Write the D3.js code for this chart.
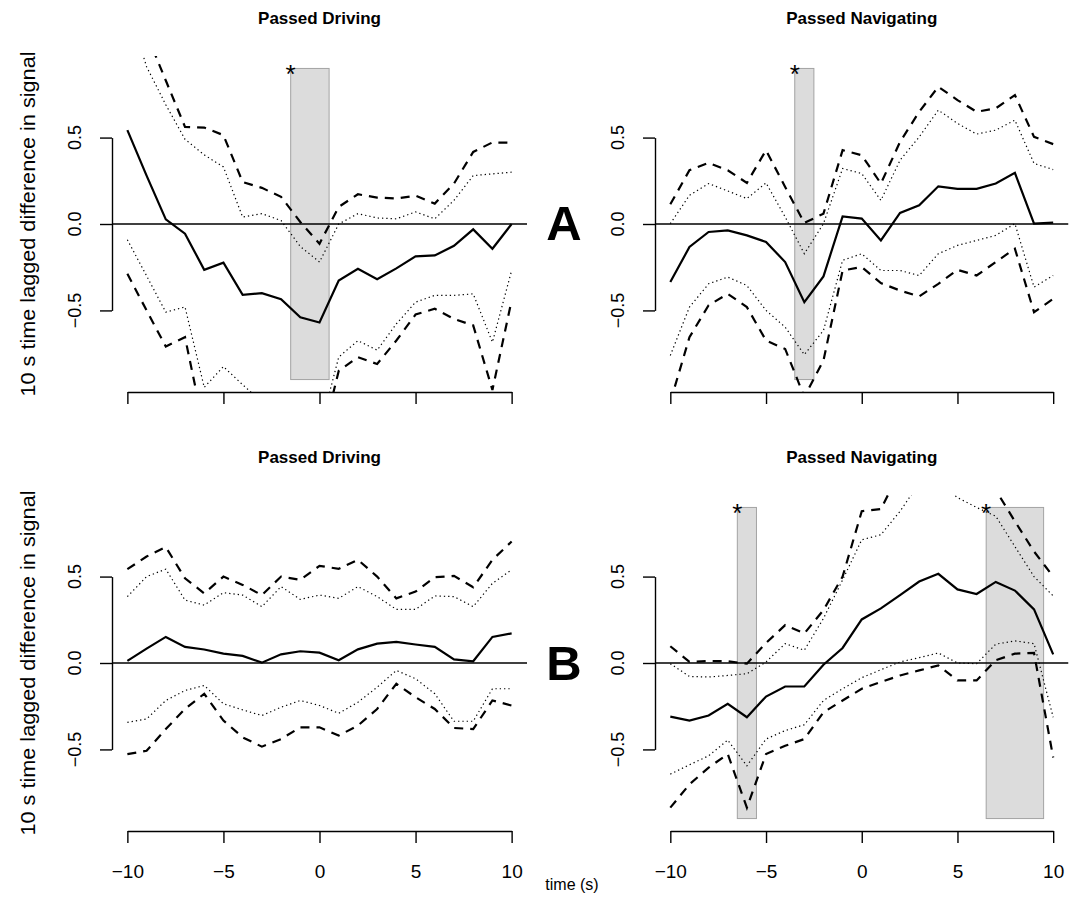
<!DOCTYPE html>
<html>
<head>
<meta charset="utf-8">
<script src="https://cdn.jsdelivr.net/npm/d3@7"></script>
<style>
  body { margin: 0; background: #fff; }
  svg { font-family: "Liberation Sans", Arimo, Helvetica, Arial, sans-serif; }
</style>
</head>
<body>
<svg id="chart" width="1078" height="906"></svg>
<script>
// time lag in seconds
const timeLags = [-10, -9, -8, -7, -6, -5, -4, -3, -2, -1, 0, 1, 2, 3, 4, 5, 6, 7, 8, 9, 10];
const xTicks = [-10, -5, 0, 5, 10];
const yTicks = [-0.5, 0, 0.5];

// A - Passed Driving
const aDrivMean = [0.543, 0.28, 0.027, -0.056, -0.265, -0.224, -0.41, -0.40, -0.435, -0.54, -0.57, -0.327, -0.259, -0.319, -0.257, -0.187, -0.182, -0.126, -0.031, -0.143, 0.0];
const aDrivOuterHi = [1.35, 1.1, 0.83, 0.562, 0.558, 0.514, 0.243, 0.209, 0.157, 0.012, -0.114, 0.099, 0.172, 0.153, 0.147, 0.164, 0.118, 0.234, 0.417, 0.472, 0.47];
const aDrivInnerHi = [1.27, 0.91, 0.69, 0.49, 0.40, 0.33, 0.04, 0.06, 0.02, -0.13, -0.22, 0.0, 0.06, 0.035, 0.03, 0.07, 0.03, 0.137, 0.28, 0.29, 0.30];
const aDrivInnerLo = [-0.091, -0.30, -0.51, -0.48, -0.945, -0.825, -0.93, -1.03, -1.2, -1.2, -1.2, -0.77, -0.675, -0.73, -0.578, -0.452, -0.413, -0.413, -0.404, -0.684, -0.269];
const aDrivOuterLo = [-0.288, -0.50, -0.709, -0.655, -1.19, -1.1, -1.25, -1.35, -1.4, -1.35, -1.3, -0.85, -0.771, -0.81, -0.674, -0.524, -0.49, -0.549, -0.587, -0.96, -0.442];

// A - Passed Navigating
const aNavMean = [-0.336, -0.133, -0.046, -0.037, -0.066, -0.104, -0.22, -0.452, -0.303, 0.044, 0.031, -0.095, 0.064, 0.108, 0.218, 0.203, 0.203, 0.234, 0.296, 0.002, 0.008];
const aNavOuterHi = [0.114, 0.311, 0.354, 0.311, 0.238, 0.427, 0.214, 0.006, 0.06, 0.427, 0.398, 0.234, 0.475, 0.649, 0.794, 0.717, 0.649, 0.669, 0.746, 0.504, 0.462];
const aNavInnerHi = [0.002, 0.166, 0.234, 0.191, 0.147, 0.238, 0.041, -0.172, 0.002, 0.321, 0.292, 0.137, 0.369, 0.504, 0.659, 0.582, 0.52, 0.543, 0.601, 0.35, 0.315];
const aNavInnerLo = [-0.761, -0.481, -0.346, -0.307, -0.356, -0.50, -0.597, -0.756, -0.616, -0.21, -0.172, -0.269, -0.269, -0.298, -0.172, -0.124, -0.095, -0.066, 0.002, -0.365, -0.298];
const aNavOuterLo = [-1.03, -0.655, -0.47, -0.404, -0.481, -0.674, -0.723, -1.0, -0.79, -0.269, -0.249, -0.342, -0.385, -0.419, -0.346, -0.265, -0.298, -0.22, -0.143, -0.51, -0.433];

// B - Passed Driving
const bDrivMean = [0.012, 0.083, 0.151, 0.093, 0.078, 0.054, 0.041, 0.002, 0.05, 0.068, 0.06, 0.016, 0.079, 0.112, 0.122, 0.107, 0.093, 0.021, 0.01, 0.151, 0.171];
const bDrivOuterHi = [0.543, 0.616, 0.671, 0.49, 0.403, 0.50, 0.452, 0.393, 0.50, 0.481, 0.562, 0.545, 0.597, 0.50, 0.374, 0.413, 0.496, 0.504, 0.438, 0.597, 0.703];
const bDrivInnerHi = [0.384, 0.50, 0.543, 0.364, 0.335, 0.407, 0.393, 0.326, 0.442, 0.368, 0.393, 0.374, 0.442, 0.384, 0.31, 0.31, 0.388, 0.384, 0.326, 0.461, 0.539];
const bDrivInnerLo = [-0.343, -0.324, -0.217, -0.159, -0.13, -0.236, -0.271, -0.304, -0.256, -0.217, -0.246, -0.291, -0.227, -0.14, -0.043, -0.091, -0.178, -0.337, -0.337, -0.149, -0.149];
const bDrivOuterLo = [-0.527, -0.508, -0.382, -0.266, -0.178, -0.333, -0.43, -0.484, -0.44, -0.372, -0.372, -0.42, -0.362, -0.266, -0.12, -0.198, -0.266, -0.376, -0.382, -0.217, -0.246];

// B - Passed Navigating
const bNavMean = [-0.31, -0.333, -0.304, -0.236, -0.314, -0.194, -0.136, -0.136, -0.01, 0.087, 0.252, 0.316, 0.393, 0.471, 0.516, 0.426, 0.399, 0.469, 0.419, 0.31, 0.05];
const bNavOuterHi = [0.097, 0.006, 0.012, 0.01, -0.004, 0.116, 0.219, 0.171, 0.306, 0.50, 0.878, 0.891, 1.11, 1.25, 1.3, 1.25, 1.15, 1.0, 0.82, 0.645, 0.50];
const bNavInnerHi = [-0.004, -0.078, -0.081, -0.072, -0.062, 0.006, 0.112, 0.074, 0.258, 0.481, 0.713, 0.742, 0.878, 1.04, 1.05, 0.957, 0.90, 0.849, 0.674, 0.50, 0.388];
const bNavInnerLo = [-0.643, -0.589, -0.537, -0.446, -0.595, -0.44, -0.391, -0.357, -0.217, -0.149, -0.085, -0.039, 0.006, 0.031, 0.058, 0.0, -0.004, 0.109, 0.128, 0.112, -0.314];
const bNavOuterLo = [-0.837, -0.702, -0.605, -0.527, -0.837, -0.527, -0.479, -0.44, -0.285, -0.217, -0.149, -0.11, -0.072, -0.043, -0.014, -0.101, -0.101, 0.016, 0.054, 0.058, -0.547];

// significant windows [start, end] in seconds
const aDrivWindows = [[-1.5, 0.5]];
const aNavWindows = [[-3.5, -2.5]];
const bDrivWindows = [];
const bNavWindows = [[-6.5, -5.5], [6.5, 9.5]];

const windowHeight = 0.9;
const yLabel = "10 s time lagged difference in signal";

const panels = [
  { title: "Passed Driving", left: 112, right: 527, top: 56, bottom: 392, tickLabels: false,
    series: [aDrivMean, aDrivOuterHi, aDrivInnerHi, aDrivInnerLo, aDrivOuterLo], windows: aDrivWindows },
  { title: "Passed Navigating", left: 655, right: 1068.5, top: 56, bottom: 392, tickLabels: false,
    series: [aNavMean, aNavOuterHi, aNavInnerHi, aNavInnerLo, aNavOuterLo], windows: aNavWindows },
  { title: "Passed Driving", left: 112, right: 527, top: 495, bottom: 831, tickLabels: true,
    series: [bDrivMean, bDrivOuterHi, bDrivInnerHi, bDrivInnerLo, bDrivOuterLo], windows: bDrivWindows },
  { title: "Passed Navigating", left: 655, right: 1068.5, top: 495, bottom: 831, tickLabels: true,
    series: [bNavMean, bNavOuterHi, bNavInnerHi, bNavInnerLo, bNavOuterLo], windows: bNavWindows }
];

// solid mean, dashed outer band, dotted inner band
const styles = [
  { width: 2.2, dash: null },
  { width: 2.2, dash: "9,7" },
  { width: 1.2, dash: "1.3,3" },
  { width: 1.2, dash: "1.3,3" },
  { width: 2.2, dash: "9,7" }
];

const svg = d3.select("#chart");
svg.append("rect").attr("width", 1078).attr("height", 906).attr("fill", "#fff");

panels.forEach((p, i) => {
  const x = d3.scaleLinear().domain([-10.8, 10.8]).range([p.left, p.right]);
  const y = d3.scaleLinear().domain([-0.972, 0.972]).range([p.bottom, p.top]);
  const g = svg.append("g");

  const clipId = "clip" + i;
  g.append("clipPath").attr("id", clipId)
    .append("rect")
    .attr("x", p.left).attr("y", p.top)
    .attr("width", p.right - p.left).attr("height", p.bottom - p.top);

  const plot = g.append("g").attr("clip-path", `url(#${clipId})`);

  plot.selectAll("rect.win")
    .data(p.windows)
    .join("rect")
    .attr("class", "win")
    .attr("x", d => x(d[0]))
    .attr("y", y(windowHeight))
    .attr("width", d => x(d[1]) - x(d[0]))
    .attr("height", y(-windowHeight) - y(windowHeight))
    .attr("fill", "#dcdcdc")
    .attr("stroke", "#a3a3a3")
    .attr("stroke-width", 1);

  plot.append("line")
    .attr("x1", p.left).attr("x2", p.right)
    .attr("y1", y(0)).attr("y2", y(0))
    .attr("stroke", "#000").attr("stroke-width", 1.4);

  const line = d3.line()
    .x((d, j) => x(timeLags[j]))
    .y(d => y(d));

  p.series.forEach((s, k) => {
    plot.append("path")
      .datum(s)
      .attr("fill", "none")
      .attr("stroke", "#000")
      .attr("stroke-width", styles[k].width)
      .attr("stroke-dasharray", styles[k].dash)
      .attr("d", line);
  });

  // stars on the significant windows
  g.selectAll("text.star")
    .data(p.windows)
    .join("text")
    .attr("class", "star")
    .attr("x", d => x(d[0]))
    .attr("y", y(windowHeight) + 15)
    .attr("text-anchor", "middle")
    .attr("font-size", 26)
    .text("*");

  // x axis (R style, spans first to last tick)
  const xAxisScale = x.copy().domain([-10, 10]).range([x(-10), x(10)]);
  const xAxis = g.append("g")
    .attr("transform", `translate(0,${p.bottom})`)
    .call(d3.axisBottom(xAxisScale).tickValues(xTicks).tickSize(12).tickSizeOuter(0)
      .tickFormat(d => p.tickLabels ? (d < 0 ? "\u2212" + Math.abs(d) : d) : ""));
  xAxis.selectAll("path, line").attr("stroke", "#000").attr("stroke-width", 1.4);
  xAxis.selectAll("text").attr("font-size", 19).attr("fill", "#000").attr("dy", "1.68em")
    .attr("font-family", "Liberation Sans, Arimo, Helvetica, Arial, sans-serif");

  // y axis
  const yAxisScale = y.copy().domain([-0.5, 0.5]).range([y(-0.5), y(0.5)]);
  const yAxis = g.append("g")
    .attr("transform", `translate(${p.left},0)`)
    .call(d3.axisLeft(yAxisScale).tickValues(yTicks).tickSize(12).tickSizeOuter(0)
      .tickFormat(() => ""));
  yAxis.selectAll("path, line").attr("stroke", "#000").attr("stroke-width", 1.4);

  g.selectAll("text.ytick")
    .data(yTicks)
    .join("text")
    .attr("class", "ytick")
    .attr("transform", d => `translate(${p.left - 37},${y(d)}) rotate(-90)`)
    .attr("text-anchor", "middle")
    .attr("dy", "0.36em")
    .attr("font-size", 18)
    .text(d => (d < 0 ? "\u2212" : "") + d3.format(".1f")(Math.abs(d)));

  // title
  g.append("text")
    .attr("x", (p.left + p.right) / 2)
    .attr("y", p.top - 32)
    .attr("text-anchor", "middle")
    .attr("font-size", 17)
    .attr("font-weight", "bold")
    .text(p.title);

  // row label on the left panels
  if (p.left < 300) {
    g.append("text")
      .attr("transform", `translate(35,${(p.top + p.bottom) / 2}) rotate(-90)`)
      .attr("text-anchor", "middle")
      .attr("font-size", 20)
      .attr("textLength", 345)
      .attr("lengthAdjust", "spacingAndGlyphs")
      .text(yLabel);
  }
});

// panel row letters
svg.append("text").attr("x", 564).attr("y", 240)
  .attr("text-anchor", "middle").attr("font-size", 49).attr("font-weight", "bold").text("A");
svg.append("text").attr("x", 564).attr("y", 680)
  .attr("text-anchor", "middle").attr("font-size", 49).attr("font-weight", "bold").text("B");

svg.append("text").attr("x", 572).attr("y", 890)
  .attr("text-anchor", "middle").attr("font-size", 16).text("time (s)");
</script>
</body>
</html>
